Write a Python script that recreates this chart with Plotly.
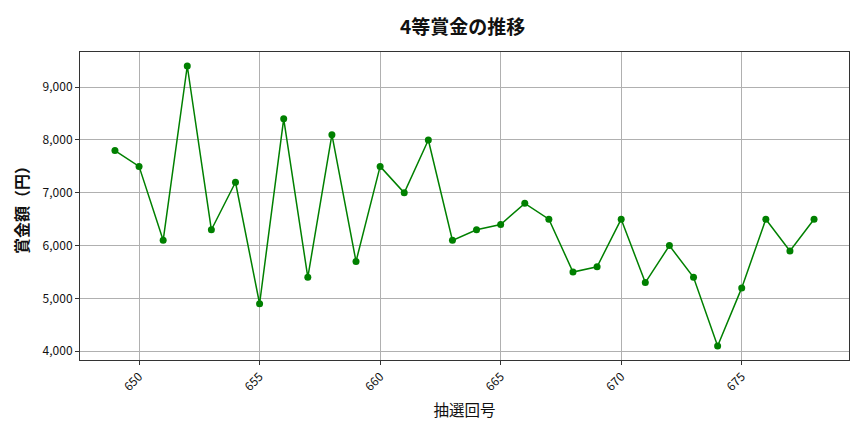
import plotly.graph_objects as go

# 抽選回号と4等賞金（円）
draws = list(range(649, 679))
prize = [7800, 7500, 6100, 9400, 6300, 7200, 4900, 8400, 5400, 8100,
         5700, 7500, 7000, 8000, 6100, 6300, 6400, 6800, 6500, 5500,
         5600, 6500, 5300, 6000, 5400, 4100, 5200, 6500, 5900, 6500]

x_ticks = [650, 655, 660, 665, 670, 675]
y_ticks = [4000, 5000, 6000, 7000, 8000, 9000]

font = "Noto Sans CJK JP"

fig = go.Figure()
fig.add_trace(go.Scatter(
    x=draws, y=prize, mode="lines+markers",
    line=dict(color="green", width=1.5),
    marker=dict(color="green", size=7),
))

pad_x = (max(draws) - min(draws)) * 0.05
pad_y = (max(prize) - min(prize)) * 0.05

# page body has an 8px margin, so the figure is a bit smaller than the window
fig.update_layout(
    width=856, height=424,
    margin=dict(l=72, r=15, t=44, b=72),
    paper_bgcolor="white", plot_bgcolor="white",
    font=dict(family=font, color="#111", size=12),
    showlegend=False,
    title=dict(text="<b>4等賞金の推移</b>", x=0.531, xanchor="center",
               y=0.955, yanchor="middle", font=dict(size=19, color="#111")),
)
fig.update_xaxes(
    range=[min(draws) - pad_x, max(draws) + pad_x],
    tickvals=x_ticks, tickangle=-45,
    showgrid=True, gridcolor="#b0b0b0", gridwidth=0.8,
    showline=True, linecolor="#333", linewidth=1, mirror=True,
    ticks="outside", ticklen=4, tickcolor="#333",
    zeroline=False,
    title=dict(text="抽選回号", font=dict(size=15.5, color="#111"), standoff=12),
)
fig.update_yaxes(
    range=[min(prize) - pad_y, max(prize) + pad_y],
    tickvals=y_ticks, tickformat=",d",
    showgrid=True, gridcolor="#b0b0b0", gridwidth=0.8,
    showline=True, linecolor="#333", linewidth=1, mirror=True,
    ticks="outside", ticklen=4, tickcolor="#333",
    zeroline=False,
    title=dict(text="<b>賞金額（円）</b>", font=dict(size=16, color="#111"), standoff=10),
)

fig.write_html("out.html")
